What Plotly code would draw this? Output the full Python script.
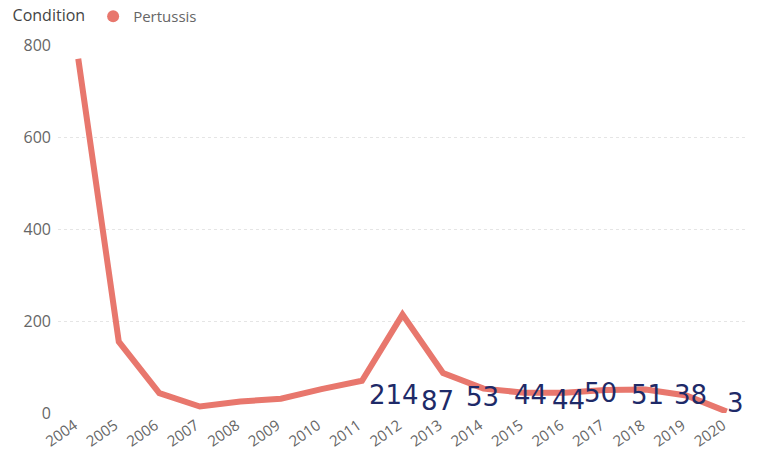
import plotly.graph_objects as go

years = list(range(2004, 2021))
pertussis = [770, 155, 43, 14, 25, 31, 52, 70, 214, 87, 53, 44, 44, 50, 51, 38, 3]

# hand-written notes added next to the later years
note_years = [2012, 2013, 2014, 2015, 2016, 2017, 2018, 2019, 2020]
note_text = ["214", "87", "53", "44", "44", "50", "51", "38", "3"]
note_dx = [-9, -6, -1, 6, 4, -5, 2, 4, 9]
note_dy = [18, 12, 16, 18, 13, 20, 18, 18, 10]

line_color = "#E8776D"
ink = "#1E2A68"

fig = go.Figure()
fig.add_trace(go.Scatter(
    x=years, y=pertussis, mode="lines", name="Pertussis",
    line=dict(color=line_color, width=6), showlegend=False,
))
# legend entry drawn as a round swatch
fig.add_trace(go.Scatter(
    x=[None], y=[None], mode="markers", name="Pertussis",
    marker=dict(color=line_color, size=15, symbol="circle"),
))

for yr, txt, dx, dy in zip(note_years, note_text, note_dx, note_dy):
    fig.add_annotation(
        x=yr, y=0, xref="x", yref="y", text=txt, showarrow=False,
        xshift=dx, yshift=dy,
        font=dict(family="DejaVu Sans", size=26, color=ink),
    )

fig.update_layout(
    width=757, height=453,
    margin=dict(l=58, r=10, t=45, b=40, autoexpand=False),
    paper_bgcolor="white", plot_bgcolor="white",
    font=dict(family="Open Sans", color="#666666"),
    showlegend=True,
    legend=dict(
        orientation="h", xref="container", yref="container",
        x=0.014, y=1.0, xanchor="left", yanchor="top",
        title=dict(text="Condition", font=dict(size=16, color="#444444")),
        font=dict(size=15, color="#666666"),
        itemsizing="constant", bgcolor="rgba(0,0,0,0)",
        itemwidth=30,
    ),
    xaxis=dict(
        range=[2003.5, 2020.5], tickmode="array", tickvals=years,
        ticktext=[str(y) for y in years], tickangle=-35,
        ticklabelshift=-4,
        showgrid=False, zeroline=False, showline=False,
        tickfont=dict(size=15, color="#666666"),
    ),
    yaxis=dict(
        range=[0, 800], tickvals=[0, 200, 400, 600, 800],
        showgrid=True, gridcolor="rgba(190,190,190,0.4)", griddash="dot",
        gridwidth=1, zeroline=False, showline=False,
        tickfont=dict(size=16, color="#666666"), ticklabelstandoff=6,
    ),
)

fig.write_html("out.html")
